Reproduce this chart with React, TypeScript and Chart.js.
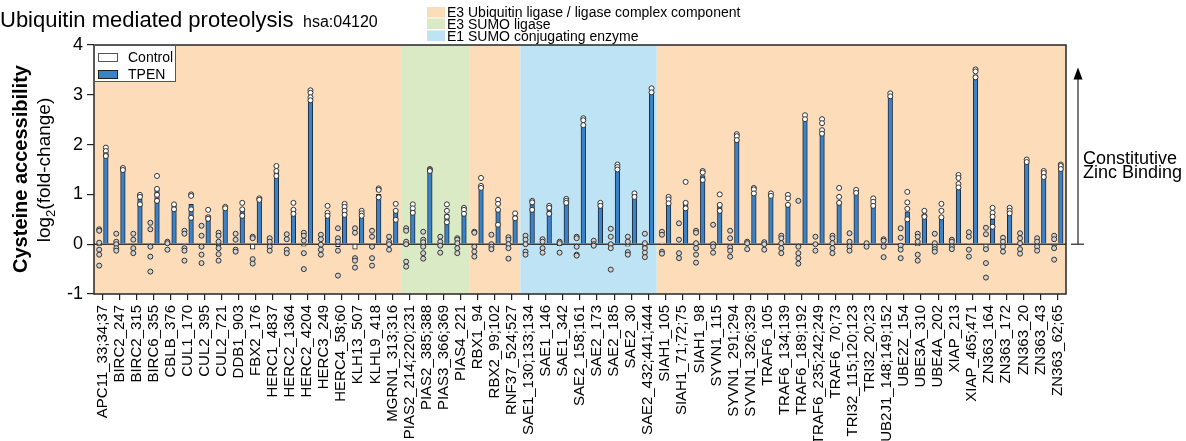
import React, { useEffect, useRef } from "react";
import { Chart, registerables } from "chart.js";
Chart.register(...registerables);

const FONT = "'Liberation Sans', Arial, Helvetica, sans-serif";

const labels = [
  "APC11_33;34;37", "BIRC2_247", "BIRC2_315", "BIRC6_355", "CBLB_376", "CUL1_170", "CUL2_395", "CUL2_721",
  "DDB1_903", "FBX2_176", "HERC1_4837", "HERC2_1364", "HERC2_4204", "HERC3_249", "HERC4_58;60", "KLH13_507",
  "KLHL9_418", "MGRN1_313;316", "PIAS2_214;220;231", "PIAS2_385;388", "PIAS3_366;369", "PIAS4_221", "RBX1_94",
  "RBX2_99;102", "RNF37_524;527", "SAE1_130;133;134", "SAE1_146", "SAE1_342", "SAE2_158;161", "SAE2_173",
  "SAE2_185", "SAE2_30", "SAE2_432;441;444", "SIAH1_105", "SIAH1_71;72;75", "SIAH1_98", "SYVN1_115",
  "SYVN1_291;294", "SYVN1_326;329", "TRAF6_105", "TRAF6_134;139", "TRAF6_189;192", "TRAF6_235;242;249",
  "TRAF6_70;73", "TRI32_115;120;123", "TRI32_20;23", "UB2J1_148;149;152", "UBE2Z_154", "UBE3A_310",
  "UBE4A_202", "XIAP_213", "XIAP_465;471", "ZN363_164", "ZN363_172", "ZN363_20", "ZN363_43", "ZN363_62;65",
];

const tpenMean = [
  1.84, 1.5, 0.9, 1.08, 0.78, 0.8, 0.58, 0.73, 0.7, 0.9, 1.45, 0.7, 2.93, 0.63, 0.7, 0.6, 1.0, 0.65,
  0.68, 1.48, 0.6, 0.62, 1.12, 0.7, 0.57, 0.8, 0.7, 0.85, 2.4, 0.78, 1.52, 0.96, 3.05, 0.85, 0.8, 1.38,
  0.78, 2.1, 1.05, 0.97, 0.8, 2.5, 2.25, 0.85, 1.05, 0.8, 2.97, 0.65, 0.55, 0.55, 1.15, 3.4, 0.5, 0.65,
  1.65, 1.4, 1.55,
];

const ctrlMean = [
  -0.03, 0.01, 0.01, -0.02, -0.01, -0.01, -0.03, -0.03, 0.01, -0.1, 0.0, 0.0, -0.04, -0.01, -0.05, -0.1,
  -0.07, 0.02, -0.03, -0.02, 0.0, 0.0, 0.01, 0.01, -0.03, -0.02, 0.0, -0.03, -0.04, 0.01, -0.03, -0.04,
  -0.06, 0.02, 0.01, -0.02, 0.04, -0.01, -0.01, -0.02, 0.01, 0.0, 0.01, 0.01, 0.02, -0.02, -0.04, 0.01,
  -0.03, -0.01, 0.0, 0.01, -0.12, 0.0, 0.01, 0.0, -0.03,
];

const ctrlPts: number[][] = [
  [0.3, 0.27, 0.03, -0.11, -0.21, -0.43], [0.21, 0.05, 0.0, -0.08, -0.13], [0.21, 0.09, -0.08, -0.18],
  [0.43, 0.3, -0.05, -0.25, -0.55], [0.05, 0.02, -0.11], [0.27, 0.21, -0.08, -0.13, -0.33],
  [0.37, 0.17, -0.05, -0.21, -0.38], [0.23, 0.17, 0.05, -0.08, -0.2, -0.33], [0.21, 0.09, -0.11, -0.15],
  [0.15, 0.12, -0.3, -0.39], [0.12, 0.05, -0.05, -0.13], [0.2, 0.1, -0.11, -0.18],
  [0.23, 0.17, 0.07, -0.18, -0.5], [0.19, 0.1, -0.01, -0.11, -0.21], [0.32, 0.12, 0.05, -0.13, -0.63],
  [0.32, 0.23, -0.28, -0.33, -0.47], [0.27, 0.15, -0.05, -0.28, -0.43], [0.15, 0.05, 0.0, -0.11],
  [0.32, 0.27, 0.05, 0.0, -0.35, -0.45], [0.25, 0.09, 0.04, -0.05, -0.18, -0.29], [0.15, 0.05, -0.03, -0.17],
  [0.12, 0.09, 0.02, -0.08, -0.18], [0.25, 0.23, -0.05, -0.15, -0.25], [0.19, 0.0, -0.05, -0.1],
  [0.14, 0.09, 0.0, -0.08, -0.29], [0.17, 0.09, 0.0, -0.15, -0.21], [0.1, 0.05, -0.08, -0.17],
  [0.05, 0.02, -0.17], [0.15, 0.12, -0.05, -0.21, -0.23], [0.07, 0.0, -0.03],
  [0.31, 0.15, 0.0, -0.08, -0.51], [0.15, 0.05, -0.16, -0.21], [0.21, 0.02, -0.08, -0.17, -0.26],
  [0.25, 0.19, -0.15, -0.19], [0.42, 0.09, -0.18, -0.28], [0.27, 0.23, 0.02, -0.08, -0.21, -0.37],
  [0.39, 0.0, -0.05, -0.17], [0.27, 0.12, -0.06, -0.13, -0.25], [0.05, 0.02, -0.1], [0.04, 0.0, -0.11],
  [0.17, 0.12, 0.02, -0.08, -0.18], [0.87, -0.05, -0.18, -0.28, -0.39], [0.15, 0.0, -0.13],
  [0.17, 0.12, 0.02, -0.08, -0.18], [0.22, 0.05, -0.05, -0.13], [0.02, -0.05], [0.1, 0.07, -0.05, -0.26],
  [0.32, 0.13, -0.03, -0.11, -0.28], [0.21, 0.15, 0.05, -0.21, -0.33], [0.21, 0.02, -0.05, -0.1, -0.15],
  [0.09, 0.05, -0.05, -0.1], [0.24, 0.15, -0.11, -0.25], [0.33, 0.2, -0.1, -0.38, -0.67],
  [0.13, 0.05, -0.05, -0.15], [0.22, 0.12, 0.02, -0.1, -0.19], [0.12, 0.05, -0.05, -0.13],
  [0.17, 0.1, -0.08, -0.31],
];

const tpenPts: number[][] = [
  [1.94, 1.87, 1.79, 1.77], [1.53, 1.49], [0.99, 0.95, 0.8], [1.37, 1.11, 0.99, 0.87], [0.8, 0.7],
  [1.0, 0.97, 0.7, 0.53], [0.69, 0.54, 0.51], [0.75, 0.72], [0.83, 0.7, 0.57], [0.92, 0.89],
  [1.57, 1.47, 1.37], [0.83, 0.69, 0.61], [3.09, 3.04, 2.95, 2.89], [0.77, 0.63, 0.57],
  [0.81, 0.75, 0.67, 0.59], [0.67, 0.62, 0.57], [1.12, 1.09, 0.94], [0.81, 0.67, 0.49],
  [0.8, 0.72, 0.63], [1.51, 1.49, 1.47], [0.8, 0.67, 0.55, 0.44], [0.73, 0.69, 0.61], [1.33, 1.17, 1.13],
  [0.89, 0.81, 0.69, 0.39], [0.62, 0.52], [0.87, 0.84, 0.69], [0.77, 0.73, 0.61], [0.91, 0.87, 0.83],
  [2.53, 2.49, 2.39], [0.83, 0.77], [1.6, 1.55, 1.5], [1.02, 0.95], [3.13, 3.05], [0.95, 0.9, 0.82],
  [1.25, 0.83, 0.72], [1.47, 1.44, 1.29], [1.0, 0.79, 0.67], [2.21, 2.17, 2.09], [1.13, 1.1, 1.02],
  [1.02, 0.97], [0.99, 0.92, 0.79], [2.59, 2.51], [2.51, 2.43, 2.29, 2.22], [1.13, 0.95, 0.83],
  [1.09, 1.03], [0.92, 0.85, 0.77], [3.03, 2.97], [1.05, 0.84, 0.71, 0.5], [0.67, 0.57, 0.55],
  [0.81, 0.67, 0.54], [1.39, 1.33, 1.21, 1.14], [3.51, 3.47, 3.35], [0.73, 0.63, 0.55, 0.35],
  [0.73, 0.67, 0.62], [1.7, 1.65], [1.47, 1.43, 1.35], [1.6, 1.57, 1.51],
];

const PEACH = "#fcdcb9";
const GREEN = "#d9eac4";
const BLUE_BG = "#bee3f4";
const regionStart = [0, 18, 22, 25, 33];
const regionEnd = [17, 21, 24, 32, 56];
const regionColor = [PEACH, GREEN, PEACH, BLUE_BG, PEACH];
const groupNames = ["E3 Ubiquitin ligase / ligase complex component", "E3 SUMO ligase", "E1 SUMO conjugating enzyme"];
const groupColors = [PEACH, GREEN, BLUE_BG];

const seriesNames = ["Control", "TPEN"];
const BAR_BLUE = "#3b82c9";

const PT_OFF = 0.195;

const decor = {
  id: "decor",
  beforeDatasetsDraw(chart: any) {
    const { ctx, chartArea: a, scales } = chart;
    const xp = scales.xp;
    const y = scales.y;
    ctx.save();
    for (let r = 0; r < regionStart.length; r++) {
      const x0 = xp.getPixelForValue(regionStart[r] - 0.5);
      const x1 = xp.getPixelForValue(regionEnd[r] + 0.5);
      ctx.fillStyle = regionColor[r];
      ctx.fillRect(x0, a.top, x1 - x0, a.bottom - a.top);
    }
    const y0 = y.getPixelForValue(0);
    ctx.strokeStyle = "#3a3a3a";
    ctx.lineWidth = 1.5;
    ctx.beginPath();
    ctx.moveTo(a.left, y0);
    ctx.lineTo(a.right, y0);
    ctx.stroke();
    ctx.restore();
  },
  afterDraw(chart: any) {
    const { ctx, chartArea: a, scales } = chart;
    const y = scales.y;
    ctx.save();
    // plot frame
    ctx.strokeStyle = "#262626";
    ctx.lineWidth = 1.5;
    ctx.strokeRect(a.left, a.top, a.right - a.left, a.bottom - a.top);

    // series legend box
    ctx.fillStyle = "#ffffff";
    ctx.fillRect(a.left + 0.5, a.top + 0.5, 81, 36);
    ctx.strokeStyle = "#555";
    ctx.lineWidth = 1;
    ctx.strokeRect(a.left + 0.5, a.top + 0.5, 81, 36);
    ctx.fillStyle = "#ffffff";
    ctx.strokeStyle = "#555";
    ctx.fillRect(98.5, 53.5, 19, 8);
    ctx.strokeRect(98.5, 53.5, 19, 8);
    ctx.fillStyle = BAR_BLUE;
    ctx.fillRect(98.5, 70.5, 19, 8);
    ctx.strokeStyle = "#222";
    ctx.strokeRect(98.5, 70.5, 19, 8);
    ctx.fillStyle = "#000";
    ctx.font = `14px ${FONT}`;
    ctx.textAlign = "left";
    ctx.textBaseline = "alphabetic";
    ctx.fillText(seriesNames[0], 128, 62);
    ctx.fillText(seriesNames[1], 128, 79);

    // title
    ctx.font = `22px ${FONT}`;
    ctx.fillText("Ubiquitin mediated proteolysis", 0, 27);
    ctx.font = `16px ${FONT}`;
    ctx.fillText("hsa:04120", 303, 27);

    // group legend
    const swY = [7, 18.5, 30.5];
    const tY = [16.5, 28.5, 41];
    ctx.font = `14px ${FONT}`;
    for (let i = 0; i < groupNames.length; i++) {
      ctx.fillStyle = groupColors[i];
      ctx.fillRect(427, swY[i], 18, 10.5);
      ctx.fillStyle = "#000";
      ctx.fillText(groupNames[i], 447, tY[i]);
    }

    // y axis title
    ctx.save();
    ctx.translate(27, 169);
    ctx.rotate(-Math.PI / 2);
    ctx.font = `bold 20px ${FONT}`;
    ctx.textAlign = "center";
    ctx.fillText("Cysteine accessibility", 0, 0);
    ctx.restore();

    ctx.save();
    ctx.translate(50, 170);
    ctx.rotate(-Math.PI / 2);
    ctx.textAlign = "left";
    const f1 = `19px ${FONT}`;
    const f2 = `13px ${FONT}`;
    ctx.font = f1;
    const w1 = ctx.measureText("log").width;
    const w3 = ctx.measureText("(fold-change)").width;
    ctx.font = f2;
    const w2 = ctx.measureText("2").width;
    let x = -(w1 + w2 + w3) / 2;
    ctx.font = f1;
    ctx.fillText("log", x, 0);
    x += w1;
    ctx.font = f2;
    ctx.fillText("2", x, 5);
    x += w2;
    ctx.font = f1;
    ctx.fillText("(fold-change)", x, 0);
    ctx.restore();

    // zero extension + arrow
    const y0 = y.getPixelForValue(0);
    ctx.strokeStyle = "#222";
    ctx.lineWidth = 1.2;
    ctx.beginPath();
    ctx.moveTo(a.right + 5, y0);
    ctx.lineTo(a.right + 18, y0);
    ctx.stroke();
    const ax = 1078;
    const yTop = y.getPixelForValue(3.55);
    ctx.lineWidth = 1.2;
    ctx.beginPath();
    ctx.moveTo(ax, y0);
    ctx.lineTo(ax, yTop + 10);
    ctx.stroke();
    ctx.fillStyle = "#000";
    ctx.beginPath();
    ctx.moveTo(ax, yTop);
    ctx.lineTo(ax - 4.5, yTop + 12);
    ctx.lineTo(ax + 4.5, yTop + 12);
    ctx.closePath();
    ctx.fill();

    ctx.font = `18px ${FONT}`;
    ctx.textAlign = "left";
    ctx.fillText("Constitutive", 1083, 164);
    ctx.fillText("Zinc Binding", 1083, 178);
    ctx.restore();
  },
};

export default function App() {
  const ref = useRef<HTMLCanvasElement>(null);
  useEffect(() => {
    const ctrlScatter: any[] = [];
    const tpenScatter: any[] = [];
    ctrlPts.forEach((arr, i) => arr.forEach((v) => ctrlScatter.push({ x: i - PT_OFF, y: v })));
    tpenPts.forEach((arr, i) => arr.forEach((v) => tpenScatter.push({ x: i + PT_OFF, y: v })));
    const ctrlBars = ctrlMean.map((v, i) => ({ x: i - PT_OFF, y: v }));
    const tpenBars = tpenMean.map((v, i) => ({ x: i + PT_OFF, y: v }));

    const chart = new Chart(ref.current as HTMLCanvasElement, {
      type: "bar",
      data: {
        labels,
        datasets: [
          {
            type: "scatter",
            label: "ctrlPts",
            data: ctrlScatter,
            xAxisID: "xp",
            yAxisID: "y",
            pointRadius: 2.5,
            pointBorderWidth: 1,
            pointBorderColor: "#333",
            pointBackgroundColor: "#d2d2d2",
            order: 1,
          } as any,
          {
            type: "scatter",
            label: "tpenPts",
            data: tpenScatter,
            xAxisID: "xp",
            yAxisID: "y",
            pointRadius: 2.5,
            pointBorderWidth: 1,
            pointBorderColor: "#333",
            pointBackgroundColor: "#ffffff",
            order: 1,
          } as any,
          {
            label: seriesNames[0],
            data: ctrlBars,
            xAxisID: "xp",
            yAxisID: "y",
            backgroundColor: "#ffffff",
            borderColor: "#222",
            borderWidth: 1,
            grouped: false,
            barThickness: 4.6,
            order: 2,
          },
          {
            label: seriesNames[1],
            data: tpenBars,
            xAxisID: "xp",
            yAxisID: "y",
            backgroundColor: BAR_BLUE,
            borderColor: "#1e2a38",
            borderWidth: 1,
            grouped: false,
            barThickness: 4.6,
            order: 2,
          },
        ],
      },
      options: {
        responsive: false,
        animation: false,
        devicePixelRatio: 1,
        layout: { padding: { left: 0, top: 45, right: 120, bottom: 0 } },
        plugins: { legend: { display: false }, tooltip: { enabled: false }, title: { display: false } },
        scales: {
          x: {
            type: "category",
            labels,
            offset: true,
            grid: { display: true, drawOnChartArea: false, drawTicks: true, tickLength: 6, offset: false, color: "#222", lineWidth: 1.2 },
            border: { display: false },
            ticks: {
              autoSkip: false,
              minRotation: 90,
              maxRotation: 90,
              padding: 5,
              color: "#000",
              font: { family: FONT, size: 15 },
            },
            afterFit: (s: any) => {
              s.height = 147;
            },
          },
          xp: {
            type: "linear",
            display: false,
            offset: false,
            grid: { offset: false },
            min: -0.5,
            max: 56.5,
          },
          y: {
            type: "linear",
            min: -1,
            max: 4,
            grid: { display: true, drawOnChartArea: false, drawTicks: true, tickLength: 7, color: "#222", lineWidth: 1.2 },
            border: { display: false },
            ticks: { stepSize: 1, padding: 4, color: "#000", font: { family: FONT, size: 18 } },
            afterFit: (s: any) => {
              s.width = 94;
            },
          },
        },
      },
      plugins: [decor],
    } as any);
    return () => chart.destroy();
  }, []);
  return (
    <div style={{ position: "fixed", left: 0, top: 0, width: 1186, height: 441, background: "#fff" }}>
      <canvas ref={ref} width={1186} height={441} style={{ display: "block", width: 1186, height: 441 }} />
    </div>
  );
}
